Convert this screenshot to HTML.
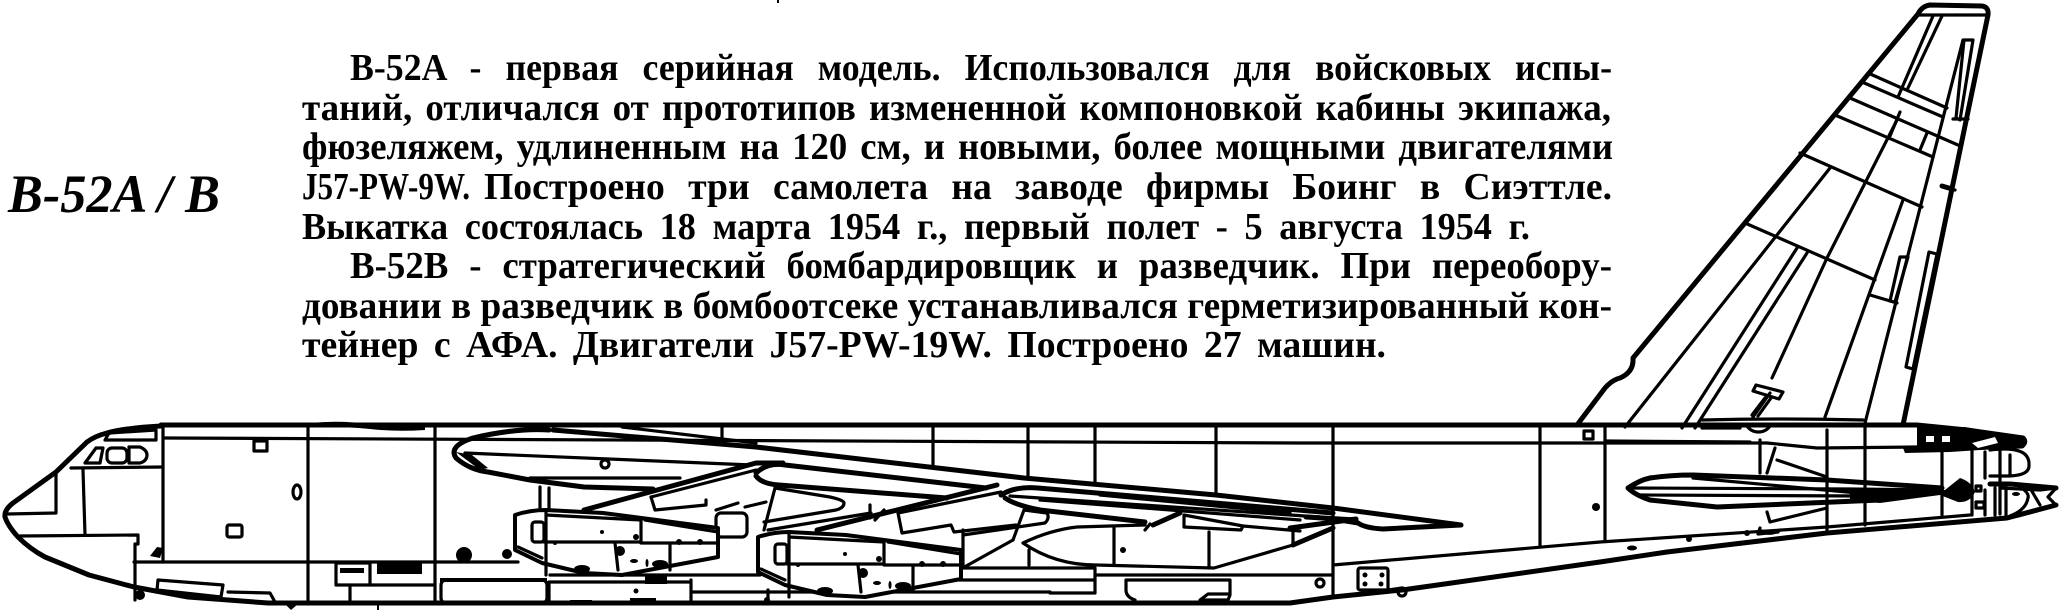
<!DOCTYPE html>
<html><head><meta charset="utf-8"><style>
html,body{margin:0;padding:0;background:#fff;width:2060px;height:612px;overflow:hidden}
svg{display:block}
text{font-family:"Liberation Serif","DejaVu Serif",serif;font-weight:bold;fill:#000}
.b{fill:none;stroke:#000;stroke-width:3.2;stroke-linejoin:round;stroke-linecap:round}
.t{fill:none;stroke:#000;stroke-width:5;stroke-linejoin:round;stroke-linecap:round}
.k{fill:#000;stroke:none}
</style></head><body>
<svg xmlns="http://www.w3.org/2000/svg" width="2060" height="612" viewBox="0 0 2060 612">
<rect width="2060" height="612" fill="#fff"/>
<g font-size="38">
<text x="350" y="80" textLength="1262" lengthAdjust="spacingAndGlyphs" style="word-spacing:16px">B-52A - первая серийная модель. Использовался для войсковых испы-</text>
<text x="302" y="120" textLength="1309" lengthAdjust="spacingAndGlyphs" style="word-spacing:4px">таний, отличался от прототипов измененной компоновкой кабины экипажа,</text>
<text x="302" y="159" textLength="1311" lengthAdjust="spacingAndGlyphs" style="word-spacing:4px">фюзеляжем, удлиненным на 120 см, и новыми, более мощными двигателями</text>
<text x="302" y="199" textLength="168" lengthAdjust="spacingAndGlyphs">J57-PW-9W.</text>
<text x="484" y="199" textLength="1128" lengthAdjust="spacingAndGlyphs" style="word-spacing:14px">Построено три самолета на заводе фирмы Боинг в Сиэттле.</text>
<text x="302" y="239" textLength="1228" lengthAdjust="spacingAndGlyphs" style="word-spacing:8px">Выкатка состоялась 18 марта 1954 г., первый полет - 5 августа 1954 г.</text>
<text x="350" y="278" textLength="1262" lengthAdjust="spacingAndGlyphs" style="word-spacing:12px">B-52B - стратегический бомбардировщик и разведчик. При переобору-</text>
<text x="302" y="318" textLength="1310" lengthAdjust="spacingAndGlyphs">довании в разведчик в бомбоотсеке устанавливался герметизированный кон-</text>
<text x="302" y="357" textLength="1084" lengthAdjust="spacingAndGlyphs" style="word-spacing:6px">тейнер с АФА.  Двигатели J57-PW-19W. Построено 27 машин.</text>
</g>
<text x="8" y="212" font-size="54" font-style="italic" textLength="212" lengthAdjust="spacingAndGlyphs">B-52A / B</text>

<!-- fin -->
<g class="t">
<path d="M1577 425L1605 388Q1612 380 1620 378Q1634 372 1633 358L1918 14Q1922 6 1930 5L1982 6Q1989 7 1988 15L1903 425"/>
</g>
<g class="b">
<path d="M1919 15H1986"/>
<path d="M1625 427L1830 168"/>
<path d="M1682 428L1797 248M1695 428L1807 253"/>
<path d="M1772 378L1827 258L1897 120"/>
<path d="M1825 417L1903 200"/>
<path d="M1865 423L1963 40"/>
<path d="M1745 223L1875 280"/>
<path d="M1800 153L1922 207"/>
<path d="M1835 115L1933 157"/>
<path d="M1850 98L1958 145"/>
<path d="M1862 82L1943 117M1868 73L1947 108"/>
<path d="M1870 295L1897 303"/>
<path d="M1900 112L1890 136M1927 133L1920 150"/>
<path d="M1933 16L1898 97M1942 16L1907 90"/>
<path d="M1964 40H1973L1960 120L1956 118Z"/>
<path d="M1900 257H1908L1895 302L1890 301Z"/>
<path d="M1929 252L1937 254L1913 369L1906 367Z"/>
<path d="M1953 119H1968"/>
<path d="M1942 186L1955 190"/>
<path d="M1756 385L1783 392L1779 399L1753 391Z"/>
<path d="M1752 415L1765 398M1758 416L1771 398"/>
</g>
<path class="t" d="M1942 186L1952 189"/>

<!-- fuselage outline -->
<g class="t">
<path d="M161 426Q125 428 107 433Q95 436 87 442L56 472L13 503Q4 510 5 517Q8 526 18 537Q30 549 45 557L89 575L134 587L188 597L268 603H1290L1333 597L1402 590L1600 562L1667 552L1827 533L2007 518L2056 505"/>
<path d="M161 425H1917L1967 430L2023 438Q2027 442 2022 446L1960 448"/>
<path d="M2056 488L2010 484L1990 484"/>
</g>
<g class="b">
<path d="M165 438L1300 443H1767L1817 448L1917 447"/>
<path d="M1605 441L1750 442"/>
<path d="M134 562H518M549 562"/>
<path d="M163 426V562M308 425V603M435 425V603"/>
<path d="M722 425V443M933 425V468M1028 425V478M1095 425V483M1216 425V495"/>
<path d="M1333 425V597M1540 425V546M1605 425V540"/>
<path d="M1827 430V530M1865 425V525"/>
<path d="M1942 450V515M1972 450V515M2000 450V514"/>
<path d="M1760 440V473M1775 448L1767 473M1777 460L1827 477"/>
<path d="M1333 565L1600 542L1827 527L1970 515"/>
<path d="M1702 420Q1780 418 1863 420M1702 428H1740"/>
<path d="M1747 426A14 14 0 0 0 1770 426"/>
<path d="M1770 393L1753 417"/>
<path d="M1767 512L1770 522L1827 508"/>
<path d="M1760 528L1758 534L1778 532"/>
<path d="M2000 488L2040 490L2056 488M2040 505L2030 488"/>
</g>

<!-- nose -->
<g class="b">
<path d="M105 440L109 433L156 430V440Z"/>
<path d="M71 468L163 467"/>
<path d="M56 472V513L7 514"/>
<path d="M83 470L85 535"/>
<path d="M20 536L138 535V544H135V585M135 585V600"/>
<path d="M85 463L96 448H103L100 463Z"/>
<rect x="107" y="448" width="20" height="15" rx="5"/>
<path d="M129 447H140Q147 450 147 455Q147 461 140 463H129Z"/>
<path d="M158 580L223 585L221 597L157 590Z"/>
<path d="M228 592L270 593L275 602"/>
<rect x="254" y="441" width="13" height="10"/>
<rect x="227" y="525" width="15" height="12" rx="2"/>
<ellipse cx="297" cy="492" rx="4" ry="7"/>
<rect x="336" y="563" width="34" height="22"/>
<path d="M370 585H435M350 585V603"/>
<rect x="441" y="580" width="106" height="23" rx="5"/>
</g>
<g class="k">
<rect x="377" y="563" width="45" height="11"/>
<rect x="340" y="568" width="24" height="5"/>
<path d="M150 556L157 547L163 548L160 558Z"/>
<circle cx="464" cy="555" r="8"/>
<circle cx="507" cy="554" r="5"/>
<circle cx="140" cy="595" r="5"/>
<path d="M310 423Q340 420 370 424Q400 428 425 425V430Q395 432 370 429Q340 426 310 427Z"/>
<path d="M440 578H547V582H440Z"/>
<path d="M285 604H298L291 610Z"/>
<rect x="377" y="605" width="2" height="5"/>
<rect x="777" y="0" width="2" height="3"/>
</g>

<!-- wing -->
<g class="t">
<path d="M553 430L756 447L1024 478L1216 495L1333 508L1461 525L1383 529Q1365 528 1358 523L1340 520"/>
<path d="M549 430Q515 428 473 438Q448 446 456 458Q470 470 488 472L530 480L584 487L653 489"/>
<path d="M584 510L756 463H783"/>
<path d="M817 530L997 485"/>
<path d="M756 473Q768 462 785 465L986 488M756 476Q762 484 779 485L947 498"/>
<path d="M1001 495Q1015 486 1038 488L1333 513M1005 498Q1015 505 1040 510L1145 522"/>
<path d="M1153 525L1180 513"/>
<path d="M1290 528L1356 519"/>
<path d="M1306 517L1356 520"/>
<path d="M1333 528L1293 545"/>
</g>
<g class="b">
<path d="M622 427L756 443"/>
<path d="M465 453L752 465"/>
<circle cx="605" cy="464" r="4" fill="#fff"/>
<path d="M530 478H680"/>
<path d="M651 497L655 510L706 505L706 500M716 510L738 503M745 507L766 502"/>
<path d="M651 497L756 470"/>
<path d="M775 488L764 530"/>
<path d="M775 488L830 497Q844 500 844 503Q844 508 836 510L764 522"/>
<rect x="716" y="513" width="31" height="24" rx="5"/>
<path d="M768 530L871 513"/>
<path d="M870 505V518M884 510L875 520"/>
<path d="M898 513L902 533L951 525L954 532L1016 525M898 513L1001 492"/>
<path d="M1024 510L1013 540M1024 510L1047 513Q1050 518 1045 523L963 535"/>
<path d="M963 530V565M1013 540L959 570"/>
<path d="M1023 543Q1050 530 1077 527L1145 525M1023 543Q1055 565 1096 565L1214 568L1293 545"/>
<path d="M1114 527V565M1209 532V568M1293 530V545M1029 550V565"/>
<path d="M1184 515V527L1241 530L1243 526L1184 515M1243 526L1300 531"/>
<path d="M1010 496L1320 517M1040 500L1300 520"/>
<path d="M1100 495L1290 513"/>
<path d="M1150 524L1145 530"/>
<path d="M550 582H691M691 580V603M691 592H1050M768 590V603"/>
<path d="M550 575H760M549 582V603M540 487V510M549 488V510"/>
<path d="M959 568H1095V593H1050M1095 575H1333"/>
<path d="M959 580H1095"/>
<path d="M1126 580V590Q1126 597 1135 600M1126 580H1230V595L1228 600H1200L1208 594H1230"/>
<circle cx="1320" cy="583" r="4"/>
<rect x="1358" y="568" width="30" height="22" rx="2"/>
<path d="M1388 590L1402 588"/>
<circle cx="1402" cy="592" r="4"/>
</g>
<g class="k">
<path d="M456 452L480 470L488 468L472 455Z"/>
<rect x="645" y="576" width="22" height="8"/>
<rect x="570" y="600" width="22" height="3"/>
<rect x="630" y="598" width="26" height="5"/>
<circle cx="636" cy="591" r="2.5"/>
<circle cx="1123" cy="550" r="3"/>
<circle cx="767" cy="600" r="3"/>
<circle cx="1365" cy="575" r="2.5"/>
<circle cx="1382" cy="575" r="2.5"/>
<circle cx="1365" cy="584" r="2.5"/>
<circle cx="1381" cy="584" r="2.5"/>
</g>

<!-- engine nacelles -->
<g id="en">
<path fill="#fff" stroke="#000" stroke-width="4" stroke-linejoin="round" d="M515 515Q530 510 546 510L603 513L718 528V557L622 575L584 573L542 563L515 550Z"/>
<g class="b">
<rect x="532" y="522" width="12" height="20" rx="3"/>
<path d="M546 510V575M546 515L641 520M544 542H641M641 518V542"/>
<path d="M645 520L718 532"/>
<path d="M641 543H716M615 543L618 570M670 545V570"/>
<path d="M518 547L542 558"/>
</g>
<g class="k">
<circle cx="620" cy="551" r="5"/><circle cx="636" cy="537" r="3"/><circle cx="602" cy="532" r="2"/>
<ellipse cx="582" cy="569" rx="8" ry="4"/><ellipse cx="660" cy="564" rx="8" ry="4"/>
<ellipse cx="634" cy="561" rx="4" ry="2"/><ellipse cx="647" cy="563" rx="1.5" ry="4"/>
<circle cx="679" cy="542" r="3"/><circle cx="700" cy="542" r="3"/><circle cx="555" cy="543" r="2"/>
</g>
</g>
<use href="#en" transform="translate(243,22)"/>

<!-- tail plane -->
<path class="t" fill="#fff" d="M1628 488Q1640 480 1650 478Q1670 475 1693 475L1827 480L1942 488L1880 500L1717 507L1650 500Q1635 495 1628 488Z"/>
<g class="b">
<path d="M1632 488L1850 489L1942 490"/>
<path d="M1693 478L1880 495"/>
<path d="M1640 495L1860 496"/>
</g>
<g class="k">
<path d="M1850 490L1945 490L1960 478Q1972 482 1975 492Q1970 503 1958 502L1940 495L1880 503L1850 500Z"/>
<path d="M1917 427H1965L2022 438L2024 445L2010 448L1950 452L1905 453L1903 448L1917 447Z"/>
</g>
<g fill="#fff" stroke="none">
<rect x="1926" y="436" width="8" height="6"/>
<rect x="1942" y="436" width="8" height="6"/>
<path d="M1972 443L1995 437L1998 443L1978 448Z"/>
</g>
<g class="b">
<path d="M1985 452V478M1990 450Q2030 445 2029 465Q2030 475 2010 476H1990M2010 455V476"/>
<path d="M2015 484Q2030 492 2028 498Q2026 510 2010 516"/>
<path d="M1985 490V515M1995 488V515M2006 488V515"/>
<rect x="1976" y="486" width="5" height="5"/>
<rect x="1976" y="502" width="8" height="6"/>
<path d="M2028 488L2056 488L2048 497L2056 505L2018 516"/>
</g>
<circle class="k" cx="1596" cy="507" r="4"/>
<ellipse class="k" cx="1632" cy="548" rx="5" ry="2.5"/>
<circle class="k" cx="1689" cy="539" r="3"/>
<circle class="k" cx="1747" cy="533" r="3"/>
<path class="b" d="M1762 531Q1770 536 1780 530"/>
<rect class="b" x="1584" y="431" width="9" height="8"/>
<ellipse class="k" cx="2016" cy="494" rx="4" ry="2"/>
</svg>
</body></html>
